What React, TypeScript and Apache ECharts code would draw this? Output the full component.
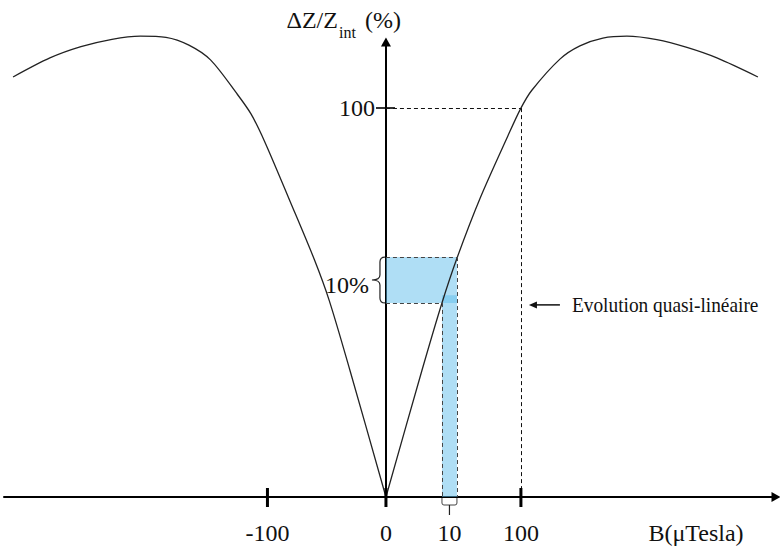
import React, { useEffect, useRef } from 'react';
import * as echarts from 'echarts';

// Schematic drawing units: x in "axis units" (label 100 at 100), y in %.
const X_MIN = -283;
const X_MAX = 289;
const Y_MIN = 0;
const Y_MAX = 117;

// Left branch of the curve (from far left down to the origin cusp)
const LEFT_X = [-276.3, -249, -226, -203, -182, -163, -146, -130, -110, -100, -90, -71, -53, -42, -26.7, 0];
const LEFT_Y = [108.0, 112.9, 115.8, 117.7, 118.5, 118.2, 116.2, 112.4, 103.5, 98.5, 91.5, 76.0, 61.0, 50.5, 32.6, 0];
// Right branch of the curve (from the origin cusp to the far right)
const RIGHT_X = [0, 26.7, 41.5, 52.6, 69.6, 90.4, 100, 108.1, 128.9, 143.7, 160.7, 178.5, 200.7, 223.0, 245.2, 275.6];
const RIGHT_Y = [0, 32.6, 49.9, 61.4, 76.7, 92.9, 100, 104.6, 112.6, 116.0, 118.0, 118.5, 117.6, 115.6, 112.9, 108.0];

// Axis labels (schematic, non-linear placement)
const X_LABEL_VALUES = [-87.8, 0, 47, 100];
const X_LABELS = ['-100', '0', '10', '100'];
const X_MAJOR_TICKS = [-87.8, 0, 100];
const Y_LABEL_VALUES = [100];
const Y_LABELS = ['100'];

// Highlighted regions
const BAND_X = [0, 52.6];
const BAND_Y = [49.9, 61.7];
const COLUMN_X = [41.5, 52.6];
const COLUMN_Y = [0, 51.9];
const GUIDE_POINT = [100, 100];

const BAND_LABEL = '10%';
const ANNOTATION_TEXT = 'Evolution quasi-linéaire';
const ANNOTATION_Y = 49.4;
const X_NAME = 'B(μTesla)';

const FONT = '"Liberation Serif", "Times New Roman", serif';
const INK = '#111';

const GRID_LEFT = 4;
const GRID_RIGHT = 4;

export default function App() {
  const ref = useRef<HTMLDivElement>(null);

  useEffect(() => {
    const chart = echarts.init(ref.current!, null, { renderer: 'svg' });

    const seg = (a: number[], b: number[], lineStyle: any) => [
      { coord: a, lineStyle },
      { coord: b },
    ];
    const dashStyle = { color: INK, width: 1, type: [4, 3] };
    const blueDash = { color: '#444', width: 1, type: [4, 3] };

    // place the y axis (line + labels) on x = 0 of the value axis
    const gridWidth = 780 - GRID_LEFT - GRID_RIGHT;
    const yAxisOffset = -((0 - X_MIN) / (X_MAX - X_MIN)) * gridWidth;

    const option: any = {
      animation: false,
      backgroundColor: '#fff',
      grid: {
        left: GRID_LEFT,
        right: GRID_RIGHT,
        top: 42,
        bottom: 51,
        containLabel: false,
        outerBoundsMode: 'none',
      },
      xAxis: {
        type: 'value',
        min: X_MIN,
        max: X_MAX,
        name: X_NAME,
        nameLocation: 'end',
        nameGap: -80,
        nameTextStyle: {
          fontFamily: FONT,
          fontSize: 24,
          color: INK,
          align: 'center',
          verticalAlign: 'top',
          padding: [24, 0, 0, 0],
        },
        axisLine: {
          show: true,
          onZero: true,
          symbol: ['none', 'triangle'],
          symbolSize: [10, 9],
          lineStyle: { color: '#000', width: 2 },
        },
        axisTick: { show: false },
        splitLine: { show: false },
        axisLabel: {
          customValues: X_LABEL_VALUES,
          formatter: (v: number) => {
            const i = X_LABEL_VALUES.findIndex((t) => Math.abs(t - v) < 0.01);
            return i >= 0 ? X_LABELS[i] : '';
          },
          fontFamily: FONT,
          fontSize: 24,
          color: INK,
          margin: 24,
        },
      },
      yAxis: {
        type: 'value',
        min: Y_MIN,
        max: Y_MAX,
        offset: yAxisOffset,
        axisLine: {
          show: true,
          onZero: false,
          symbol: ['none', 'triangle'],
          symbolSize: [10, 9],
          lineStyle: { color: '#000', width: 2 },
        },
        axisTick: { show: false },
        splitLine: { show: false },
        axisLabel: {
          customValues: Y_LABEL_VALUES,
          formatter: (v: number) => {
            const i = Y_LABEL_VALUES.findIndex((t) => Math.abs(t - v) < 0.01);
            return i >= 0 ? Y_LABELS[i] : '';
          },
          fontFamily: FONT,
          fontSize: 24,
          color: INK,
          margin: 11,
        },
      },
      series: [
        {
          type: 'line',
          name: 'left',
          data: LEFT_X.map((x, i) => [x, LEFT_Y[i]]),
          smooth: 0.3,
          showSymbol: false,
          clip: false,
          silent: true,
          lineStyle: { color: '#222', width: 1.3 },
          markArea: {
            silent: true,
            itemStyle: { color: 'rgba(95, 190, 235, 0.5)', borderWidth: 0 },
            data: [
              [{ coord: [BAND_X[0], BAND_Y[0]] }, { coord: [BAND_X[1], BAND_Y[1]] }],
              [{ coord: [COLUMN_X[0], COLUMN_Y[0]] }, { coord: [COLUMN_X[1], COLUMN_Y[1]] }],
            ],
          },
          markLine: {
            silent: true,
            symbol: ['none', 'none'],
            label: { show: false },
            data: [
              seg([-7.4, Y_LABEL_VALUES[0]], [6.7, Y_LABEL_VALUES[0]], { color: '#000', width: 1.6, type: 'solid' }),
            ],
          },
        },
        {
          type: 'line',
          name: 'right',
          data: RIGHT_X.map((x, i) => [x, RIGHT_Y[i]]),
          smooth: 0.3,
          showSymbol: false,
          clip: false,
          silent: true,
          lineStyle: { color: '#222', width: 1.3 },
          markLine: {
            silent: true,
            symbol: ['none', 'none'],
            label: { show: false },
            data: [
              seg([0, GUIDE_POINT[1]], GUIDE_POINT, dashStyle),
              seg(GUIDE_POINT, [GUIDE_POINT[0], 0], dashStyle),
              seg([BAND_X[0], BAND_Y[1]], [BAND_X[1], BAND_Y[1]], blueDash),
              seg([BAND_X[0], BAND_Y[0]], [COLUMN_X[0], BAND_Y[0]], blueDash),
              seg([BAND_X[1], BAND_Y[1]], [COLUMN_X[1], 0], blueDash),
              seg([COLUMN_X[0], BAND_Y[0]], [COLUMN_X[0], 0], blueDash),
            ],
          },
        },
        {
          type: 'custom',
          name: 'annotations',
          silent: true,
          data: [[0, 0]],
          z: 5,
          renderItem: (_params: any, api: any) => {
            const [ax, ay] = api.coord([0, 0]);
            const yTop = api.coord([0, Y_MAX])[1];
            const bandTop = api.coord([0, BAND_Y[1]])[1];
            const bandBot = api.coord([0, BAND_Y[0]])[1];
            const mid = (bandTop + bandBot) / 2;
            const xr = ax - 1;
            const xm = ax - 6;
            const xl = ax - 14;
            const r = 5;
            const brace =
              `M${xr},${bandTop} Q${xm},${bandTop} ${xm},${bandTop + r} ` +
              `L${xm},${mid - r} Q${xm},${mid} ${xl},${mid} ` +
              `Q${xm},${mid} ${xm},${mid + r} L${xm},${bandBot - r} ` +
              `Q${xm},${bandBot} ${xr},${bandBot}`;
            const cx0 = api.coord([COLUMN_X[0], 0])[0];
            const cx1 = api.coord([COLUMN_X[1], 0])[0];
            const foot =
              `M${cx0},${ay + 1} L${cx0},${ay + 6} Q${cx0},${ay + 8} ${cx0 + 2},${ay + 8} ` +
              `L${cx1 - 2},${ay + 8} Q${cx1},${ay + 8} ${cx1},${ay + 6} L${cx1},${ay + 1}`;
            const cxm = (cx0 + cx1) / 2;
            const [gx, gy] = api.coord([GUIDE_POINT[0], ANNOTATION_Y]);
            const tip = gx + 8;
            const ticks = X_MAJOR_TICKS.map((v) => {
              const px = api.coord([v, 0])[0];
              return {
                type: 'line',
                shape: { x1: px, y1: ay - 9, x2: px, y2: ay + 10 },
                style: { stroke: '#000', lineWidth: 3 },
              };
            });
            return {
              type: 'group',
              children: [
                ...ticks,
                { type: 'path', shape: { pathData: brace }, style: { fill: 'none', stroke: '#222', lineWidth: 1.2 } },
                { type: 'path', shape: { pathData: foot }, style: { fill: '#fff', stroke: '#444', lineWidth: 1 } },
                { type: 'line', shape: { x1: cxm, y1: ay + 8, x2: cxm, y2: ay + 18 }, style: { stroke: '#222', lineWidth: 1.2 } },
                {
                  type: 'text',
                  x: xl - 3,
                  y: mid + 5,
                  style: { text: BAND_LABEL, font: `24px ${FONT}`, fill: INK, align: 'right', verticalAlign: 'middle' },
                },
                { type: 'line', shape: { x1: tip + 6, y1: gy, x2: tip + 31, y2: gy }, style: { stroke: '#111', lineWidth: 1.5 } },
                {
                  type: 'polygon',
                  shape: { points: [[tip, gy], [tip + 8, gy - 3.5], [tip + 8, gy + 3.5]] },
                  style: { fill: '#111' },
                },
                {
                  type: 'text',
                  x: tip + 43,
                  y: gy,
                  scaleX: 0.88,
                  style: { text: ANNOTATION_TEXT, font: `22px ${FONT}`, fill: INK, align: 'left', verticalAlign: 'middle' },
                },
                {
                  type: 'text',
                  x: ax - 48,
                  y: yTop - 22,
                  style: { text: 'ΔZ/Z', font: `24px ${FONT}`, fill: INK, align: 'right', verticalAlign: 'middle' },
                },
                {
                  type: 'text',
                  x: ax - 47,
                  y: yTop - 9.5,
                  style: { text: 'int', font: `16px ${FONT}`, fill: INK, align: 'left', verticalAlign: 'middle' },
                },
                {
                  type: 'text',
                  x: ax - 21,
                  y: yTop - 22,
                  style: { text: '(%)', font: `24px ${FONT}`, fill: INK, align: 'left', verticalAlign: 'middle' },
                },
              ],
            };
          },
        },
      ],
    };

    chart.setOption(option);
    return () => chart.dispose();
  }, []);

  return (
    <div
      ref={ref}
      style={{ position: 'absolute', left: 0, top: 0, width: 780, height: 548, background: '#fff' }}
    />
  );
}
